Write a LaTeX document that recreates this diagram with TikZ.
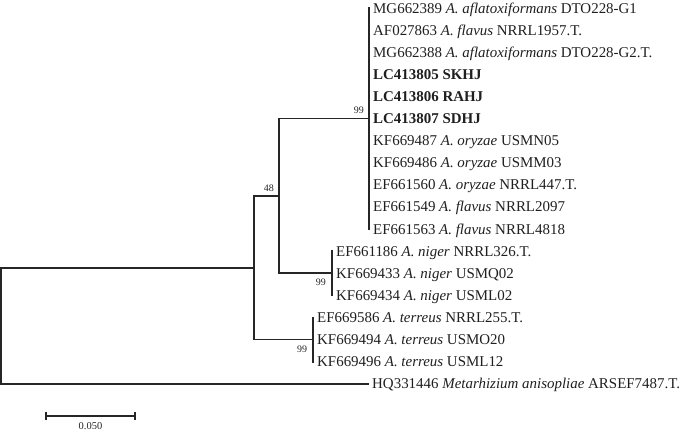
\documentclass[tikz,border=0pt]{standalone}
\usepackage{fontspec}
\setmainfont{Liberation Serif}
\begin{document}
\begin{tikzpicture}[x=1bp,y=-1bp,
  br/.style={draw=black!85, line width=1.8bp, line cap=rect},
  leaf/.style={anchor=base west, inner sep=0pt, text=black!88, font=\fontsize{15}{18}\selectfont},
  bs/.style={inner sep=0pt, text=black!85, font=\fontsize{10}{12}\selectfont}]
\useasboundingbox (0,0) rectangle (685,431);
% leaf tips
\coordinate (c0) at (369,8.0);
\coordinate (c10) at (369,229.0);
\coordinate (c11) at (332,251.1);
\coordinate (c13) at (332,295.3);
\coordinate (c14) at (313,317.4);
\coordinate (c16) at (313,361.6);
\coordinate (c17) at (368,383.7);
% internal nodes
\coordinate (nA) at (369,118.5);
\coordinate (nN) at (332,273.2);
\coordinate (nT) at (313,339.5);
\coordinate (nB) at (279,195.85);
\coordinate (nC) at (254,267.7);
\coordinate (root) at (1,325.7);
% leaf labels
\node[leaf] (t0) at (373,13.0) {MG662389 \textit{A. aflatoxiformans} DTO228-G1};
\node[leaf] (t1) at (373,35.1) {AF027863 \textit{A. flavus} NRRL1957.T.};
\node[leaf] (t2) at (373,57.2) {MG662388 \textit{A. aflatoxiformans} DTO228-G2.T.};
\node[leaf] (t3) at (373,79.3) {\textbf{LC413805 SKHJ}};
\node[leaf] (t4) at (373,101.4) {\textbf{LC413806 RAHJ}};
\node[leaf] (t5) at (373,123.5) {\textbf{LC413807 SDHJ}};
\node[leaf] (t6) at (373,145.6) {KF669487 \textit{A. oryzae} USMN05};
\node[leaf] (t7) at (373,167.7) {KF669486 \textit{A. oryzae} USMM03};
\node[leaf] (t8) at (373,189.8) {EF661560 \textit{A. oryzae} NRRL447.T.};
\node[leaf] (t9) at (373,211.9) {EF661549 \textit{A. flavus} NRRL2097};
\node[leaf] (t10) at (373,234.0) {EF661563 \textit{A. flavus} NRRL4818};
\node[leaf] (t11) at (336,256.1) {EF661186 \textit{A. niger} NRRL326.T.};
\node[leaf] (t12) at (336,278.2) {KF669433 \textit{A. niger} USMQ02};
\node[leaf] (t13) at (336,300.3) {KF669434 \textit{A. niger} USML02};
\node[leaf] (t14) at (317,322.4) {EF669586 \textit{A. terreus} NRRL255.T.};
\node[leaf] (t15) at (317,344.5) {KF669494 \textit{A. terreus} USMO20};
\node[leaf] (t16) at (317,366.6) {KF669496 \textit{A. terreus} USML12};
\node[leaf] (t17) at (372,388.7) {HQ331446 \textit{Metarhizium anisopliae} ARSEF7487.T.};
% branches
\draw[br] (c0) -- (c10);
\draw[br] (c11) -- (c13);
\draw[br] (c14) -- (c16);
\draw[br] (nB) |- (nA);
\draw[br] (nB) |- (nN);
\draw[br] (nC) |- (nB);
\draw[br] (nC) |- (nT);
\draw[br] (root) |- (nC);
\draw[br] (root) |- (c17);
% bootstrap values
\node[bs, anchor=base east] (b1) at (364,113.5) {99};
\node[bs, anchor=base east] (b2) at (274,191) {48};
\node[bs, anchor=base east] (b3) at (326,285.7) {99};
\node[bs, anchor=base east] (b4) at (307.3,352) {99};
% scale bar
\coordinate (s1) at (46,416);
\coordinate (s2) at (135,416);
\draw[br, line width=1.5bp, line cap=butt] (s1) -- (s2);
\draw[br, line width=1.5bp, line cap=butt] ([yshift=4bp]s1) -- ([yshift=-4bp]s1);
\draw[br, line width=1.5bp, line cap=butt] ([yshift=4bp]s2) -- ([yshift=-4bp]s2);
\node[bs, anchor=base, font=\fontsize{10.5}{12}\selectfont] (sl) at (90.5,429.3) {0.050};
\end{tikzpicture}
\end{document}
